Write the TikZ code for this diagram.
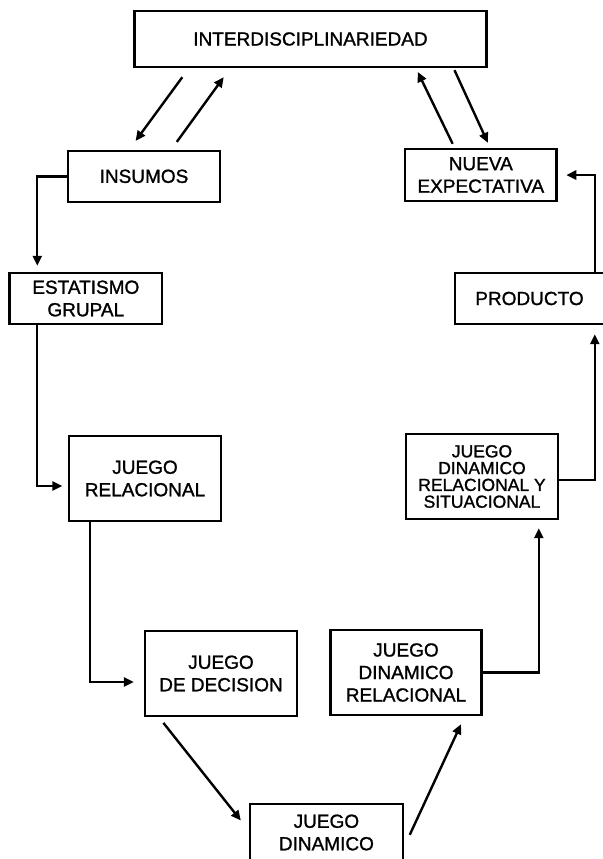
\documentclass[tikz,border=0pt]{standalone}
\usepackage{fontspec}
\setmainfont{Liberation Sans}
\newfontfamily\diagfont{Liberation Sans}[FakeBold=1.2]
\usetikzlibrary{arrows.meta}
\begin{document}
\begin{tikzpicture}[x=1bp,y=-1bp,
  box/.style={draw,line width=2.4bp,inner sep=0pt,align=center,
    font=\diagfont\fontsize{19bp}{22.5bp}\selectfont},
  smallbox/.style={box,font=\diagfont\fontsize{17.5bp}{16.8bp}\selectfont},
  arr/.style={line width=2.4bp,-{Triangle[length=10bp,width=9bp]}}]
\clip (0,0) rectangle (603,859);
\fill[white] (0,0) rectangle (603,859);
\node[box,minimum width=352bp,minimum height=56bp] (inter) at (310.5,39) {INTERDISCIPLINARIEDAD};
\node[box,minimum width=152bp,minimum height=51bp] (insumos) at (144,176.3) {INSUMOS};
\node[box,minimum width=151.5bp,minimum height=52bp] (nueva) at (480.8,175) {NUEVA\\EXPECTATIVA};
\node[box,minimum width=152.4bp,minimum height=51bp] (estat) at (85.8,298.5) {ESTATISMO\\GRUPAL};
\node[box,minimum width=149bp,minimum height=51bp] (producto) at (529.5,298.5) {PRODUCTO};
\node[box,minimum width=152bp,minimum height=85bp] (jrel) at (145,478.5) {JUEGO\\RELACIONAL};
\node[smallbox,minimum width=152bp,minimum height=85bp] (jdrys) at (482,476.5) {JUEGO\\DINAMICO\\RELACIONAL Y\\SITUACIONAL};
\node[box,minimum width=152bp,minimum height=85bp] (jdec) at (221,673.5) {JUEGO\\DE DECISION};
\node[box,minimum width=151bp,minimum height=85bp] (jdr) at (406,672.5) {JUEGO\\DINAMICO\\RELACIONAL};
\node[box,minimum width=152.7bp,minimum height=57bp] (jdin) at (326.4,832.5) {JUEGO\\DINAMICO};

\draw[arr] ([xshift=49bp,yshift=-9bp]inter.south west) -- ([xshift=68.8bp,yshift=8.7bp]insumos.north west);
\draw[arr] ([xshift=110bp,yshift=7.7bp]insumos.north west) -- ([xshift=90.4bp,yshift=-9bp]inter.south west);
\draw[arr] ([xshift=48.8bp,yshift=4bp]nueva.north west) -- ([xshift=284.4bp,yshift=-3.7bp]inter.south west);
\draw[arr] ([xshift=321.2bp,yshift=-2bp]inter.south west) -- ([xshift=84bp,yshift=5bp]nueva.north west);
\draw[arr] (insumos.west) -| ([xshift=28.9bp,yshift=6bp]estat.north west);
\draw[arr] ([xshift=28.9bp]estat.south west) |- ([xshift=-5.5bp,yshift=-7.5bp]jrel.west);
\draw[arr] ([xshift=22bp]jrel.south west) |- ([xshift=-10bp,yshift=-8.5bp]jdec.west);
\draw[arr] ([xshift=19.6bp,yshift=-5.7bp]jdec.south west) -- ([xshift=-8bp,yshift=-17.7bp]jdin.north west);
\draw[arr] ([xshift=5.8bp,yshift=-32bp]jdin.north east) -- ([xshift=131.7bp,yshift=-8bp]jdr.south west);
\draw[arr] (jdr.east) -| ([xshift=134bp,yshift=-8bp]jdrys.south west);
\draw[arr] ([yshift=-3.5bp]jdrys.east) -| ([xshift=141bp,yshift=-9bp]producto.south west);
\draw[arr] ([xshift=141bp]producto.north west) |- ([xshift=8.5bp]nueva.east);
\end{tikzpicture}
\end{document}
